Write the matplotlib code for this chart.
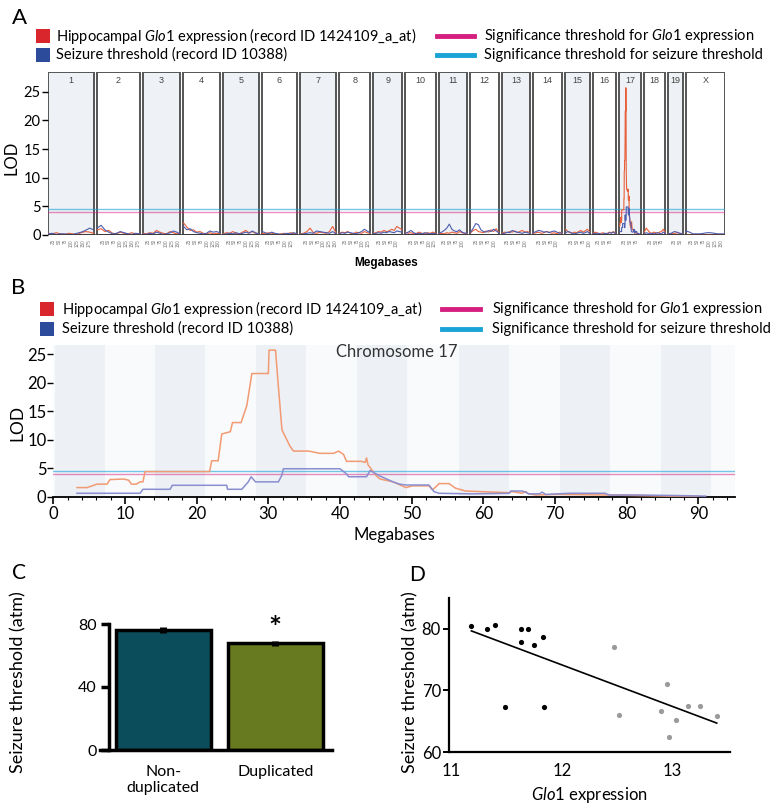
import numpy as np
import matplotlib.pyplot as plt
from matplotlib.patches import Rectangle
from matplotlib.lines import Line2D
from matplotlib.ticker import MultipleLocator

plt.rcParams['font.family'] = ['Lato', 'DejaVu Sans']
plt.rcParams['mathtext.fontset'] = 'custom'
plt.rcParams['mathtext.rm'] = 'Lato'
plt.rcParams['mathtext.it'] = 'Lato:italic'

# ---------------- data ----------------
# panel A: genome-wide scan, chromosome names and lengths (Mb)
chroms = ['1', '2', '3', '4', '5', '6', '7', '8', '9', '10',
          '11', '12', '13', '14', '15', '16', '17', '18', '19', 'X']
chrom_len = [197, 182, 160, 156, 153, 150, 153, 132, 124, 130,
             122, 121, 120, 125, 103, 98, 95, 91, 61, 167]

# LOD values along each chromosome (evenly spaced); chr 17 comes from panel B
a_glo1 = [
    [0.3, 0.2, 0.4, 0.2, 0.1, 0.3, 0.2, 0.1, 0.4, 0.6, 0.5, 0.3],
    [0.9, 1.1, 0.6, 0.8, 0.3, 0.2, 0.5, 0.3, 0.2, 0.4, 0.2, 0.1],
    [0.3, 0.2, 0.4, 0.3, 0.8, 0.5, 0.3, 0.2, 0.6, 0.4, 0.2, 0.3],
    [2.1, 1.4, 0.8, 0.9, 0.5, 0.6, 0.3, 0.2, 0.4, 0.2, 0.3, 0.2],
    [0.2, 0.4, 0.3, 0.6, 0.3, 0.2, 0.5, 0.8, 0.4, 0.6, 0.3, 0.2],
    [0.3, 0.2, 0.4, 0.3, 0.2, 0.1, 0.2, 0.3, 0.2, 0.4, 0.3, 0.2],
    [0.2, 0.3, 0.6, 1.2, 0.4, 0.3, 0.5, 0.4, 0.3, 0.6, 1.5, 0.4],
    [0.3, 0.5, 0.4, 0.6, 0.3, 0.2, 0.5, 0.4, 0.3, 0.6, 0.4, 0.3],
    [0.3, 0.4, 0.6, 0.5, 0.8, 0.6, 0.7, 1.0, 0.8, 1.5, 1.2, 0.9],
    [0.5, 0.3, 0.4, 0.2, 0.3, 0.5, 0.3, 0.2, 0.4, 0.3, 0.5, 0.3],
    [0.2, 0.3, 0.2, 0.4, 0.3, 0.5, 0.4, 0.3, 0.6, 0.4, 0.3, 0.2],
    [0.4, 0.8, 1.0, 0.6, 0.5, 0.4, 0.7, 0.5, 0.9, 0.6, 1.1, 0.5],
    [0.3, 0.5, 0.4, 0.6, 0.5, 0.7, 0.4, 0.6, 0.8, 0.5, 0.6, 0.4],
    [0.3, 0.4, 0.5, 0.3, 0.4, 0.6, 0.5, 0.3, 0.4, 0.2, 0.5, 0.3],
    [1.0, 0.6, 0.4, 0.3, 0.5, 0.4, 0.6, 0.8, 0.5, 0.7, 1.0, 0.6],
    [0.3, 0.5, 0.4, 0.2, 0.3, 0.4, 0.2, 0.3, 0.5, 0.4, 0.6, 0.3],
    None,
    [0.5, 1.2, 0.8, 0.4, 0.3, 0.5, 0.4, 0.3, 0.5, 0.6, 1.0, 0.4],
    [0.2, 0.3, 0.2, 0.4, 0.3, 0.2],
    [0.1, 0.1, 0.1, 0.1, 0.1, 0.1, 0.1, 0.1, 0.1, 0.1, 0.1, 0.1],
]
a_seiz = [
    [0.2, 0.3, 0.1, 0.2, 0.2, 0.1, 0.1, 0.3, 0.5, 0.8, 1.2, 0.9],
    [1.2, 1.7, 0.9, 0.5, 0.2, 0.3, 0.6, 0.4, 0.2, 0.1, 0.3, 0.2],
    [0.2, 0.1, 0.3, 0.2, 0.5, 0.3, 0.1, 0.2, 0.4, 0.7, 0.5, 0.2],
    [1.5, 0.9, 1.1, 0.6, 0.4, 0.3, 0.2, 0.3, 0.7, 0.5, 0.6, 0.4],
    [0.1, 0.2, 0.3, 0.2, 0.4, 0.2, 0.3, 0.5, 0.3, 0.7, 0.4, 0.2],
    [0.6, 0.4, 0.2, 0.5, 0.3, 0.2, 0.1, 0.2, 0.3, 0.2, 0.4, 0.2],
    [0.1, 0.2, 0.3, 0.4, 0.3, 0.7, 0.6, 0.5, 0.4, 0.3, 0.6, 0.2],
    [0.2, 0.4, 0.3, 0.5, 0.4, 0.3, 0.2, 0.4, 0.6, 1.0, 0.7, 0.4],
    [0.2, 0.3, 0.4, 0.3, 0.5, 0.4, 0.6, 0.5, 0.4, 0.7, 0.6, 0.5],
    [0.3, 0.5, 0.8, 0.4, 0.2, 0.3, 0.2, 0.4, 0.3, 0.2, 0.3, 0.2],
    [0.3, 0.5, 0.8, 1.2, 1.9, 1.0, 0.7, 0.6, 0.9, 0.5, 0.3, 0.4],
    [0.5, 1.2, 2.0, 1.8, 0.9, 0.6, 0.5, 0.8, 0.6, 1.0, 0.7, 0.4],
    [0.2, 0.3, 0.5, 0.4, 0.8, 0.6, 0.5, 0.4, 0.3, 0.5, 0.4, 0.3],
    [0.4, 0.6, 0.8, 0.7, 0.5, 0.6, 0.4, 0.6, 0.7, 0.5, 0.3, 0.4],
    [0.4, 0.6, 0.5, 0.3, 0.2, 0.3, 0.4, 0.5, 0.3, 0.4, 0.6, 0.3],
    [0.2, 0.3, 0.2, 0.3, 0.1, 0.2, 0.3, 0.2, 0.4, 0.3, 0.5, 0.2],
    None,
    [0.2, 0.4, 0.3, 0.2, 0.3, 0.2, 0.3, 0.4, 0.3, 0.2, 0.5, 0.3],
    [0.2, 0.3, 0.6, 0.5, 0.3, 0.2],
    [0.7, 0.5, 0.2, 0.2, 0.2, 0.3, 0.4, 0.4, 0.3, 0.2, 0.2, 0.2],
]

# panel B: chromosome 17
b_glo1_mb = [3.3, 4.7, 6.1, 7.5, 7.9, 9.8, 10.5, 10.9, 11.6, 12.1,
             12.5, 12.8, 21.8, 22.1, 23.0, 23.5, 24.7, 25.0, 26.2, 27.0,
             27.7, 30.0, 30.1, 31.0, 31.4, 31.9, 33.0, 33.5, 35.6, 37.2,
             39.1, 39.8, 40.5, 40.9, 43.0, 43.5, 43.7, 43.9, 45.1, 45.6,
             47.4, 49.2, 50.1, 52.4, 52.9, 53.6, 53.8, 55.2, 56.1, 57.5,
             59.4, 63.6, 64.0, 65.4, 65.9, 66.3, 67.3, 70.5, 77.0, 81.6,
             86.0, 90.0]
b_glo1_lod = [1.6, 1.6, 2.2, 2.2, 3.0, 3.1, 2.9, 2.2, 2.2, 2.6,
              2.6, 4.4, 4.4, 6.3, 6.3, 11.0, 11.4, 13.0, 13.0, 16.0,
              21.6, 21.6, 25.7, 25.7, 19.3, 11.7, 8.9, 8.0, 8.0, 7.6,
              7.6, 8.0, 7.4, 6.2, 6.2, 6.0, 6.8, 5.6, 3.6, 3.1,
              2.6, 1.6, 1.9, 1.9, 1.2, 2.0, 2.3, 2.3, 1.5, 1.0,
              0.9, 0.7, 0.9, 0.6, 0.9, 0.5, 0.3, 0.4, 0.3, 0.2,
              0.1, 0.1]
b_seiz_mb = [3.3, 12.1, 12.5, 16.3, 16.6, 24.2, 24.3, 26.3, 27.2, 27.6,
             28.2, 31.4, 31.9, 32.1, 40.0, 40.9, 41.2, 43.7, 44.2, 45.6,
             47.4, 48.3, 49.2, 52.4, 53.1, 53.8, 58.5, 63.6, 63.8, 65.4,
             65.9, 66.3, 67.8, 68.2, 68.7, 72.0, 77.0, 77.5, 81.6, 87.0,
             91.0]
b_seiz_lod = [0.6, 0.6, 1.3, 1.3, 2.0, 2.0, 1.3, 1.3, 2.6, 3.5,
              2.6, 2.6, 3.8, 4.9, 4.9, 4.0, 3.5, 3.5, 4.6, 3.6,
              2.6, 2.2, 2.05, 2.05, 0.9, 0.6, 0.5, 0.6, 1.0, 1.0,
              0.8, 0.5, 0.5, 0.8, 0.4, 0.6, 0.6, 0.3, 0.3, 0.2,
              0.1]
b_band_start = [0.2, 14.2, 28.3, 42.4, 56.6, 70.7, 84.8]

thr_glo1 = 4.0
thr_seiz = 4.5

# panel C
c_groups = ['Non-\nduplicated', 'Duplicated']
c_means = [76.2, 67.7]
c_err = [2.0, 1.5]

# panel D
d_black_x = [11.18, 11.32, 11.39, 11.63, 11.69, 11.63, 11.75, 11.83, 11.48, 11.84]
d_black_y = [80.5, 80.0, 80.6, 80.0, 79.9, 77.9, 77.4, 78.6, 67.4, 67.3]
d_gray_x = [12.47, 12.52, 12.95, 12.90, 12.97, 13.03, 13.14, 13.25, 13.40]
d_gray_y = [77.1, 66.0, 71.1, 66.6, 62.5, 65.2, 67.5, 67.5, 65.9]

# ---------------- colours ----------------
red_sq = '#d8262c'
blue_sq = '#2d4b9b'
mag = '#d41f80'
cyan = '#1aa3d6'
orange_a = '#e8603a'
blue_a = '#4d5db0'
orange_b = '#f29a72'
blue_b = '#8a8ed0'

W, H = 779, 807
fig = plt.figure(figsize=(W / 100, H / 100), dpi=100)


def box(l, t, r, b):
    return [l / W, 1 - b / H, (r - l) / W, (b - t) / H]


def fx(x):
    return x / W


def fy(y):
    return 1 - y / H


glo1_label = 'Hippocampal $\\mathit{Glo1}$ expression (record ID 1424109_a_at)'
seiz_label = 'Seizure threshold (record ID 10388)'


def draw_legend(sq_x, y1, y2, tx, lx0, lx1, ltx, size):
    for y, c in [(y1, red_sq), (y2, blue_sq)]:
        fig.add_artist(Rectangle((fx(sq_x), fy(y + 7)), 14 / W, 14 / H,
                                 transform=fig.transFigure, color=c, lw=0))
    fig.text(fx(tx), fy(y1), glo1_label, fontsize=size, va='center')
    fig.text(fx(tx), fy(y2), seiz_label, fontsize=size, va='center')
    for y, c in [(y1, mag), (y2, cyan)]:
        fig.add_artist(Line2D([fx(lx0), fx(lx1)], [fy(y), fy(y)],
                              transform=fig.transFigure, color=c, lw=3.5))
    fig.text(fx(ltx), fy(y1), 'Significance threshold for $\\mathit{Glo1}$ expression',
             fontsize=size, va='center')
    fig.text(fx(ltx), fy(y2), 'Significance threshold for seizure threshold',
             fontsize=size, va='center')


# ---------------- panel A ----------------
fig.text(fx(20), fy(18), 'A', fontsize=16, ha='center', va='center')
draw_legend(36, 36, 55, 56, 437, 474, 484, 10.5)

axA = fig.add_axes(box(47.7, 71.7, 725, 235))
gap = 12.8
top = 28.5
starts = []
pos = 0
for L in chrom_len:
    starts.append(pos)
    pos += L + gap
total = pos - gap

for i, (name, L, s) in enumerate(zip(chroms, chrom_len, starts)):
    fc = '#eef1f5' if i % 2 == 0 else 'white'
    axA.add_patch(Rectangle((s, 0), L, top, facecolor=fc, edgecolor='#555555',
                            lw=1.4, zorder=0))
    axA.text(s + L / 2, 27.0, name, ha='center', va='center', fontsize=6.5,
             family='Liberation Sans', color='#444444')
    for t in range(25, L, 25):
        axA.text(s + t, -0.7, str(t), rotation=90, ha='center', va='top',
                 fontsize=3.3, color='#777777', family='Liberation Sans',
                 clip_on=False)
    if a_glo1[i] is None:
        gx = s + np.array(b_glo1_mb)
        gy = b_glo1_lod
        sx = s + np.array(b_seiz_mb)
        sy = b_seiz_lod
    else:
        gx = np.linspace(s + 1, s + L - 1, len(a_glo1[i]))
        gy = a_glo1[i]
        sx = np.linspace(s + 1, s + L - 1, len(a_seiz[i]))
        sy = a_seiz[i]
    axA.plot(gx, gy, color=orange_a, lw=0.8, zorder=3)
    axA.plot(sx, sy, color=blue_a, lw=0.8, zorder=3)

axA.plot([0, total], [thr_seiz, thr_seiz], color=cyan, lw=1, alpha=0.6, zorder=2)
axA.plot([0, total], [thr_glo1, thr_glo1], color=mag, lw=1, alpha=0.5, zorder=2)
axA.plot([0, total], [0, 0], color='#333333', lw=1.8, zorder=4)

axA.set_xlim(0, total)
axA.set_ylim(0, top)
for sp in axA.spines.values():
    sp.set_visible(False)
axA.set_xticks([])
axA.set_yticks(range(0, 30, 5))
axA.tick_params(axis='y', length=4, width=1, labelsize=10.5, pad=1)
fig.text(fx(12), fy(158), 'LOD', rotation=90, fontsize=12, ha='center', va='center')
fig.text(fx(386), fy(263), 'Megabases', fontsize=8.5, fontweight='bold',
         family='Liberation Sans', ha='center', va='center')

# ---------------- panel B ----------------
fig.text(fx(18), fy(288), 'B', fontsize=16, ha='center', va='center')
draw_legend(40, 309, 329, 62, 442, 480, 492, 10.5)

axB = fig.add_axes(box(53.3, 345, 735, 496.7))
axB.set_facecolor('#f9fafc')
for s in b_band_start:
    axB.axvspan(s, s + 7.0, color='#edf0f5', lw=0, zorder=0)
axB.axhline(thr_seiz, color=cyan, lw=1, alpha=0.6, zorder=2)
axB.axhline(thr_glo1, color=mag, lw=1, alpha=0.5, zorder=2)
axB.plot(b_glo1_mb, b_glo1_lod, color=orange_b, lw=1.1, zorder=3)
axB.plot(b_seiz_mb, b_seiz_lod, color=blue_b, lw=1.1, zorder=3)
axB.set_xlim(0, 95.1)
axB.set_ylim(0, 26.6)
for k in ['top', 'right', 'left']:
    axB.spines[k].set_visible(False)
axB.spines['bottom'].set_linewidth(1.3)
axB.set_xticks(range(0, 100, 10))
axB.xaxis.set_minor_locator(MultipleLocator(2))
axB.set_yticks(range(0, 30, 5))
axB.tick_params(axis='x', which='major', length=5, width=1.2, labelsize=12, pad=2)
axB.tick_params(axis='x', which='minor', length=2.5, width=0.8)
axB.tick_params(axis='y', length=4, width=1, labelsize=12, pad=1)
axB.set_xlabel('Megabases', fontsize=12, labelpad=3)
axB.text(0.504, 0.955, 'Chromosome 17', transform=axB.transAxes, ha='center',
         va='center', fontsize=12, color='#333333')
fig.text(fx(17), fy(423), 'LOD', rotation=90, fontsize=12.5, ha='center', va='center')

# ---------------- panel C ----------------
fig.text(fx(19), fy(573), 'C', fontsize=15, ha='center', va='center')
axC = fig.add_axes(box(100, 624, 331.7, 750))
xc = np.arange(len(c_groups))
axC.bar(xc, c_means, width=0.846, color=['#0b4d5a', '#687a1f'],
        edgecolor='black', lw=2.5, zorder=2)
axC.errorbar(xc, c_means, yerr=c_err, fmt='none', ecolor='black',
             elinewidth=5, capsize=0, zorder=3)
axC.text(1, 77, '*', ha='center', va='center', fontsize=22, fontweight='bold',
         clip_on=False)
axC.set_xlim(-0.566, 1.505)
axC.set_ylim(0, 80)
axC.spines['top'].set_visible(False)
axC.spines['right'].set_visible(False)
axC.spines['left'].set_position(('data', -0.485))
axC.spines['left'].set_linewidth(2.5)
axC.spines['bottom'].set_linewidth(2.5)
axC.set_yticks([0, 40, 80])
axC.set_xticks(xc)
axC.set_xticklabels(c_groups, linespacing=1.15)
axC.tick_params(axis='y', length=6, width=2.5, labelsize=11.5, pad=3)
axC.tick_params(axis='x', length=0, labelsize=11.5, pad=11)
fig.text(fx(18), fy(682), 'Seizure threshold (atm)', rotation=90, fontsize=13,
         ha='center', va='center')

# ---------------- panel D ----------------
fig.text(fx(417), fy(575), 'D', fontsize=15, ha='center', va='center')
axD = fig.add_axes(box(449.3, 598.3, 730, 752.3))
axD.scatter(d_black_x, d_black_y, s=14, color='black', lw=0, zorder=3)
axD.scatter(d_gray_x, d_gray_y, s=14, color='#9a9a9a', lw=0, zorder=3)
all_x = np.array(d_black_x + d_gray_x)
all_y = np.array(d_black_y + d_gray_y)
slope, icpt = np.polyfit(all_x, all_y, 1)
lx = np.array([all_x.min(), all_x.max()])
axD.plot(lx, slope * lx + icpt, color='black', lw=1.2, zorder=2)
axD.set_xlim(10.98, 13.52)
axD.set_ylim(60, 84.9)
axD.spines['top'].set_visible(False)
axD.spines['right'].set_visible(False)
axD.spines['left'].set_linewidth(1.6)
axD.spines['bottom'].set_linewidth(1.6)
axD.set_xticks([11, 12, 13])
axD.set_yticks([60, 70, 80])
axD.tick_params(axis='y', length=4, width=1.4, labelsize=12, pad=2)
axD.tick_params(axis='x', length=0, labelsize=12, pad=8)
axD.set_xlabel('$\\mathit{Glo1}$ expression', fontsize=12, labelpad=4)
fig.text(fx(410), fy(682), 'Seizure threshold (atm)', rotation=90, fontsize=13,
         ha='center', va='center')

fig.savefig('out.png', dpi=100)
